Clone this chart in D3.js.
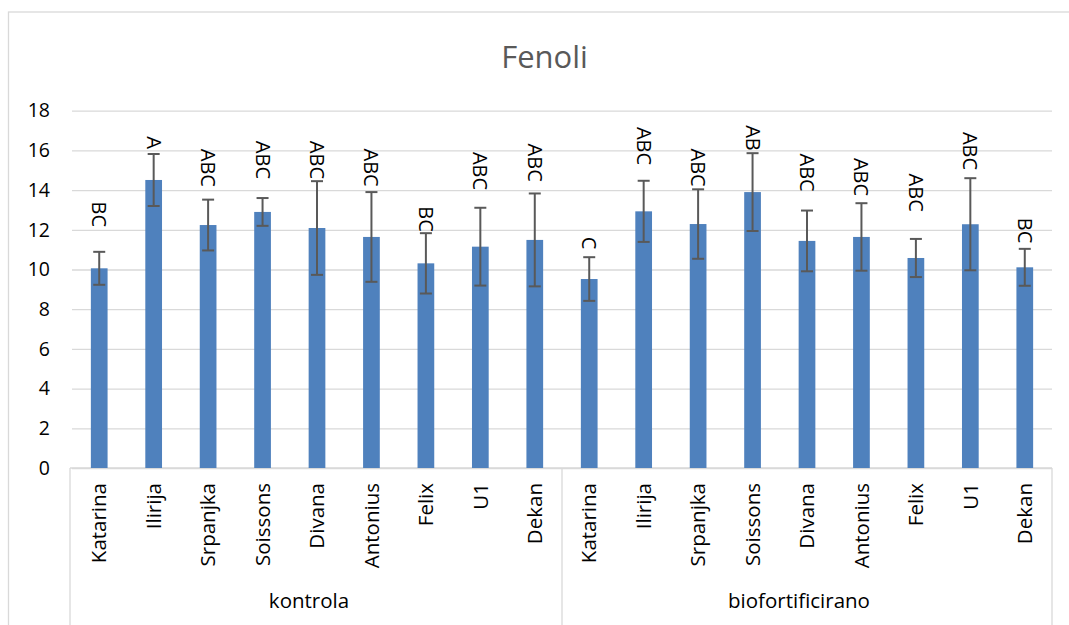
<!DOCTYPE html>
<html>
<head>
<meta charset="utf-8">
<script src="https://cdn.jsdelivr.net/npm/d3@7"></script>
<style>
  body { margin: 0; background: #fff; }
  text { font-family: "Open Sans", "Noto Sans", sans-serif; }
</style>
</head>
<body>
<div id="chart-area"></div>
<script>
// Data
var groups = ["kontrola", "biofortificirano"];
var cultivars = ["Katarina", "Ilirija", "Srpanjka", "Soissons", "Divana", "Antonius", "Felix", "U1", "Dekan"];

var kontrolaMean = [10.06, 14.51, 12.24, 12.90, 12.09, 11.64, 10.31, 11.15, 11.49];
var kontrolaErr = [0.83, 1.31, 1.28, 0.70, 2.36, 2.26, 1.52, 1.96, 2.34];
var kontrolaLetters = ["BC", "A", "ABC", "ABC", "ABC", "ABC", "BC", "ABC", "ABC"];
var kontrolaLetterAt = [12.14, 16.07, 14.16, 14.56, 14.56, 14.17, 11.90, 14.00, 14.42];

var bioMean = [9.52, 12.93, 12.29, 13.90, 11.44, 11.64, 10.58, 12.28, 10.11];
var bioErr = [1.10, 1.54, 1.75, 1.96, 1.53, 1.70, 0.96, 2.32, 0.93];
var bioLetters = ["C", "ABC", "ABC", "AB", "ABC", "ABC", "ABC", "ABC", "BC"];
var bioLetterAt = [11.02, 15.26, 14.17, 15.98, 13.92, 13.70, 12.91, 15.01, 11.32];

var yTicks = [0, 2, 4, 6, 8, 10, 12, 14, 16, 18];

// flatten to one row per bar
var rows = [];
[[kontrolaMean, kontrolaErr, kontrolaLetters, kontrolaLetterAt],
 [bioMean, bioErr, bioLetters, bioLetterAt]].forEach(function(s, gi) {
    cultivars.forEach(function(c, i) {
        rows.push({ group: groups[gi], name: c, idx: gi * cultivars.length + i,
            mean: s[0][i], err: s[1][i], letter: s[2][i], letterAt: s[3][i] });
    });
});

var W = 1069, H = 625;
var plotLeft = 72, plotRight = 1052, plotTop = 110.7, plotBottom = 468;

var svg = d3.select("#chart-area")
    .append("svg")
    .attr("width", W)
    .attr("height", H);

// chart frame
svg.append("rect")
    .attr("x", 8.5).attr("y", 12)
    .attr("width", W + 20).attr("height", H + 20)
    .attr("fill", "none")
    .attr("stroke", "#d9d9d9")
    .attr("stroke-width", 1.3);

// Title
svg.append("text")
    .attr("x", 544.5)
    .attr("y", 67.7)
    .attr("text-anchor", "middle")
    .attr("font-size", "31px")
    .attr("fill", "#595959")
    .text("Fenoli");

// Scales
var x = d3.scaleBand()
    .domain(d3.range(rows.length))
    .range([plotLeft, plotRight])
    .padding(0);
var y = d3.scaleLinear().domain([0, 18]).range([plotBottom, plotTop]);

// Y axis with gridlines
var yAxis = svg.append("g")
    .attr("transform", "translate(" + plotLeft + ",0)")
    .call(d3.axisLeft(y).tickValues(yTicks).tickSize(-(plotRight - plotLeft)).tickPadding(22));
yAxis.select(".domain").remove();
yAxis.selectAll(".tick line")
    .attr("stroke", "#d9d9d9")
    .attr("stroke-width", 1.3);
yAxis.selectAll(".tick text")
    .attr("font-size", "19.5px")
    .attr("fill", "#000");

// Category axis
svg.append("line")
    .attr("x1", 70).attr("x2", plotRight)
    .attr("y1", plotBottom).attr("y2", plotBottom)
    .attr("stroke", "#d9d9d9")
    .attr("stroke-width", 1.3);

[0, cultivars.length, rows.length].forEach(function(k) {
    var xx = k === 0 ? 70 : (k < rows.length ? x(k) : plotRight);
    svg.append("line")
        .attr("x1", xx).attr("x2", xx)
        .attr("y1", plotBottom).attr("y2", H)
        .attr("stroke", "#d9d9d9")
        .attr("stroke-width", 1.3);
});

var xAxis = svg.append("g")
    .attr("transform", "translate(0," + plotBottom + ")")
    .call(d3.axisBottom(x).tickSize(0).tickFormat(function(i) { return rows[i].name; }));
xAxis.select(".domain").remove();
xAxis.selectAll(".tick text")
    .attr("transform", "rotate(-90)")
    .attr("x", -15)
    .attr("y", 0)
    .attr("dy", "0.35em")
    .attr("text-anchor", "end")
    .attr("font-size", "20.5px")
    .attr("fill", "#000");

// group labels
svg.selectAll(".grouplabel")
    .data(groups)
    .enter()
    .append("text")
    .attr("class", "grouplabel")
    .attr("x", function(d, gi) {
        var a = x(gi * cultivars.length), b = x((gi + 1) * cultivars.length - 1) + x.bandwidth();
        return (a + b) / 2 - 8;
    })
    .attr("y", 608)
    .attr("text-anchor", "middle")
    .attr("font-size", "20.5px")
    .attr("fill", "#000")
    .text(function(d) { return d; });

// Bars
var barW = x.bandwidth() * 0.307;
svg.selectAll(".bar")
    .data(rows)
    .enter()
    .append("rect")
    .attr("class", "bar")
    .attr("x", function(d) { return x(d.idx) + (x.bandwidth() - barW) / 2; })
    .attr("y", function(d) { return y(d.mean); })
    .attr("width", barW)
    .attr("height", function(d) { return y(0) - y(d.mean); })
    .attr("fill", "#4f81bd");

// Error bars
var cx = function(d) { return x(d.idx) + x.bandwidth() / 2; };
var eb = svg.selectAll(".err")
    .data(rows)
    .enter()
    .append("g")
    .attr("class", "err")
    .attr("stroke", "#595959")
    .attr("stroke-width", 2);
eb.append("line")
    .attr("x1", cx).attr("x2", cx)
    .attr("y1", function(d) { return y(d.mean + d.err); })
    .attr("y2", function(d) { return y(d.mean - d.err); });
[1, -1].forEach(function(s) {
    eb.append("line")
        .attr("x1", function(d) { return cx(d) - 6; })
        .attr("x2", function(d) { return cx(d) + 6; })
        .attr("y1", function(d) { return y(d.mean + s * d.err); })
        .attr("y2", function(d) { return y(d.mean + s * d.err); });
});

// Significance letters
svg.selectAll(".letter")
    .data(rows)
    .enter()
    .append("text")
    .attr("class", "letter")
    .attr("transform", function(d) { return "translate(" + cx(d) + "," + y(d.letterAt) + ") rotate(90)"; })
    .attr("dy", "0.35em")
    .attr("text-anchor", "end")
    .attr("font-size", "20px")
    .attr("fill", "#000")
    .text(function(d) { return d.letter; });
</script>
</body>
</html>
